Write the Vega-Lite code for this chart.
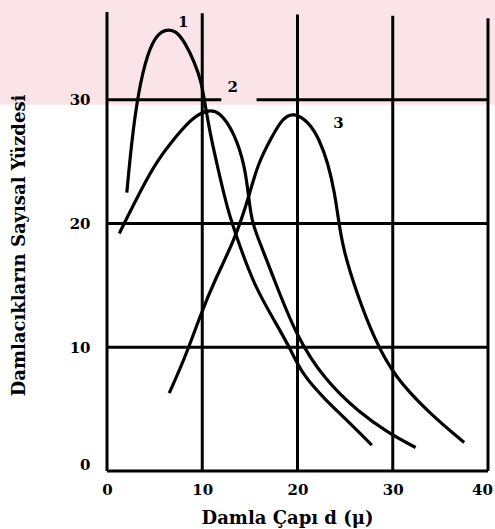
{
  "$schema": "https://vega.github.io/schema/vega-lite/v6.json",
  "width": 381,
  "height": 459,
  "autosize": {"type": "none"},
  "padding": {"left": 107, "top": 12, "right": 7, "bottom": 58},
  "background": "white",
  "config": {"view": {"stroke": null}, "font": "DejaVu Serif"},
  "datasets": {
    "band": [{"d": -11.3, "d2": 41, "v": 29.6, "v2": 40}],
    "grid": [
      {"d": 0, "d2": 0, "v": 0, "v2": 37.1},
      {"d": 10, "d2": 10, "v": 0, "v2": 37.0},
      {"d": 20, "d2": 20, "v": 0, "v2": 36.9},
      {"d": 30, "d2": 30, "v": 0, "v2": 36.8},
      {"d": 40, "d2": 40, "v": 0, "v2": 36.6},
      {"d": 0, "d2": 40, "v": 0, "v2": 0},
      {"d": 0, "d2": 40, "v": 10, "v2": 10},
      {"d": 0, "d2": 40, "v": 20, "v2": 20},
      {"d": 0, "d2": 12.0, "v": 30, "v2": 30},
      {"d": 15.7, "d2": 40, "v": 30, "v2": 30}
    ],
    "curves": [
      {"curve": "1", "d": 2.08, "v": 22.5},
      {"curve": "1", "d": 2.57, "v": 26.5},
      {"curve": "1", "d": 3.27, "v": 30.6},
      {"curve": "1", "d": 4.26, "v": 33.8},
      {"curve": "1", "d": 5.25, "v": 35.3},
      {"curve": "1", "d": 6.24, "v": 35.7},
      {"curve": "1", "d": 7.23, "v": 35.6},
      {"curve": "1", "d": 8.22, "v": 34.6},
      {"curve": "1", "d": 9.21, "v": 33.0},
      {"curve": "1", "d": 9.9, "v": 31.5},
      {"curve": "1", "d": 10.3, "v": 29.6},
      {"curve": "1", "d": 10.85, "v": 27.2},
      {"curve": "1", "d": 11.6, "v": 24.6},
      {"curve": "1", "d": 12.66, "v": 21.1},
      {"curve": "1", "d": 13.7, "v": 18.7},
      {"curve": "1", "d": 15.5, "v": 14.9},
      {"curve": "1", "d": 17.7, "v": 12.0},
      {"curve": "1", "d": 19.3, "v": 9.8},
      {"curve": "1", "d": 20.5, "v": 7.8},
      {"curve": "1", "d": 23.0, "v": 5.7},
      {"curve": "1", "d": 24.8, "v": 4.4},
      {"curve": "1", "d": 27.8, "v": 2.1},
      {"curve": "2", "d": 1.29, "v": 19.2},
      {"curve": "2", "d": 1.98, "v": 20.3},
      {"curve": "2", "d": 3.56, "v": 22.7},
      {"curve": "2", "d": 5.25, "v": 25.1},
      {"curve": "2", "d": 7.52, "v": 27.3},
      {"curve": "2", "d": 8.91, "v": 28.5},
      {"curve": "2", "d": 10.5, "v": 29.2},
      {"curve": "2", "d": 11.8, "v": 29.1},
      {"curve": "2", "d": 13.4, "v": 27.3},
      {"curve": "2", "d": 14.5, "v": 24.6},
      {"curve": "2", "d": 14.9, "v": 21.9},
      {"curve": "2", "d": 15.2, "v": 20.3},
      {"curve": "2", "d": 15.7, "v": 19.1},
      {"curve": "2", "d": 17.4, "v": 15.8},
      {"curve": "2", "d": 19.8, "v": 11.0},
      {"curve": "2", "d": 22.8, "v": 7.4},
      {"curve": "2", "d": 26.5, "v": 4.7},
      {"curve": "2", "d": 29.5, "v": 3.1},
      {"curve": "2", "d": 32.4, "v": 1.9},
      {"curve": "3", "d": 6.53, "v": 6.3},
      {"curve": "3", "d": 8.22, "v": 9.2},
      {"curve": "3", "d": 9.9, "v": 12.8},
      {"curve": "3", "d": 11.3, "v": 15.4},
      {"curve": "3", "d": 13.4, "v": 18.7},
      {"curve": "3", "d": 14.8, "v": 21.9},
      {"curve": "3", "d": 15.85, "v": 24.9},
      {"curve": "3", "d": 17.3, "v": 27.0},
      {"curve": "3", "d": 18.4, "v": 28.5},
      {"curve": "3", "d": 19.6, "v": 29.0},
      {"curve": "3", "d": 21.2, "v": 28.2},
      {"curve": "3", "d": 22.3, "v": 26.8},
      {"curve": "3", "d": 23.2, "v": 24.9},
      {"curve": "3", "d": 23.9, "v": 22.5},
      {"curve": "3", "d": 24.3, "v": 20.3},
      {"curve": "3", "d": 24.8, "v": 17.9},
      {"curve": "3", "d": 26.2, "v": 14.4},
      {"curve": "3", "d": 28.1, "v": 10.6},
      {"curve": "3", "d": 30.2, "v": 7.6},
      {"curve": "3", "d": 33.8, "v": 4.7},
      {"curve": "3", "d": 37.5, "v": 2.3}
    ],
    "labels": [
      {"t": "1", "d": 8.0, "v": 36.3},
      {"t": "2", "d": 13.2, "v": 31.0},
      {"t": "3", "d": 24.3, "v": 28.1}
    ]
  },
  "encoding": {
    "x": {
      "field": "d",
      "type": "quantitative",
      "scale": {"domain": [0, 40], "nice": false, "zero": false},
      "axis": {
        "values": [0, 10, 20, 30, 40],
        "format": "d",
        "domain": false,
        "ticks": false,
        "grid": false,
        "zindex": 1,
        "labelFlush": false,
        "labelOverlap": false,
        "labelOffset": {"condition": {"test": "datum.value === 40", "value": -6}, "value": 0},
        "labelFont": "DejaVu Serif",
        "labelFontWeight": "bold",
        "labelFontSize": 15,
        "labelColor": "black",
        "labelPadding": 11,
        "title": "Damla Çapı  d (μ)",
        "titleFont": "DejaVu Serif",
        "titleFontWeight": "bold",
        "titleFontSize": 18,
        "titleColor": "black",
        "titleX": 180,
        "titleY": 47,
        "titleAlign": "center",
        "titleBaseline": "middle"
      }
    },
    "y": {
      "field": "v",
      "type": "quantitative",
      "scale": {"domain": [0, 37.1], "nice": false, "zero": false},
      "axis": {
        "values": [0, 10, 20, 30],
        "format": "d",
        "domain": false,
        "ticks": false,
        "grid": false,
        "zindex": 1,
        "labelOffset": {"condition": {"test": "datum.value === 0", "value": -7}, "value": 0},
        "labelFont": "DejaVu Serif",
        "labelFontWeight": "bold",
        "labelFontSize": 15,
        "labelColor": "black",
        "labelPadding": 17,
        "title": "Damlacıkların Sayısal Yüzdesi",
        "titleFont": "DejaVu Serif",
        "titleFontWeight": "bold",
        "titleFontSize": 18,
        "titleColor": "black",
        "titleAngle": -90,
        "titleX": -88,
        "titleY": 233,
        "titleAlign": "center",
        "titleBaseline": "middle"
      }
    }
  },
  "layer": [
    {
      "data": {"name": "band"},
      "mark": {"type": "rect", "fill": "#fbe4e8", "clip": false},
      "encoding": {
        "x2": {"field": "d2"},
        "y2": {"field": "v2"}
      }
    },
    {
      "data": {"name": "grid"},
      "mark": {"type": "rule", "stroke": "black", "strokeWidth": 3},
      "encoding": {
        "x2": {"field": "d2"},
        "y2": {"field": "v2"}
      }
    },
    {
      "data": {"name": "curves"},
      "mark": {"type": "line", "stroke": "black", "strokeWidth": 3.2, "interpolate": "basis"},
      "encoding": {
        "detail": {"field": "curve", "type": "nominal"}
      }
    },
    {
      "data": {"name": "labels"},
      "mark": {"type": "text", "font": "DejaVu Serif", "fontWeight": "bold", "fontSize": 15, "color": "black"},
      "encoding": {
        "text": {"field": "t", "type": "nominal"}
      }
    }
  ]
}
